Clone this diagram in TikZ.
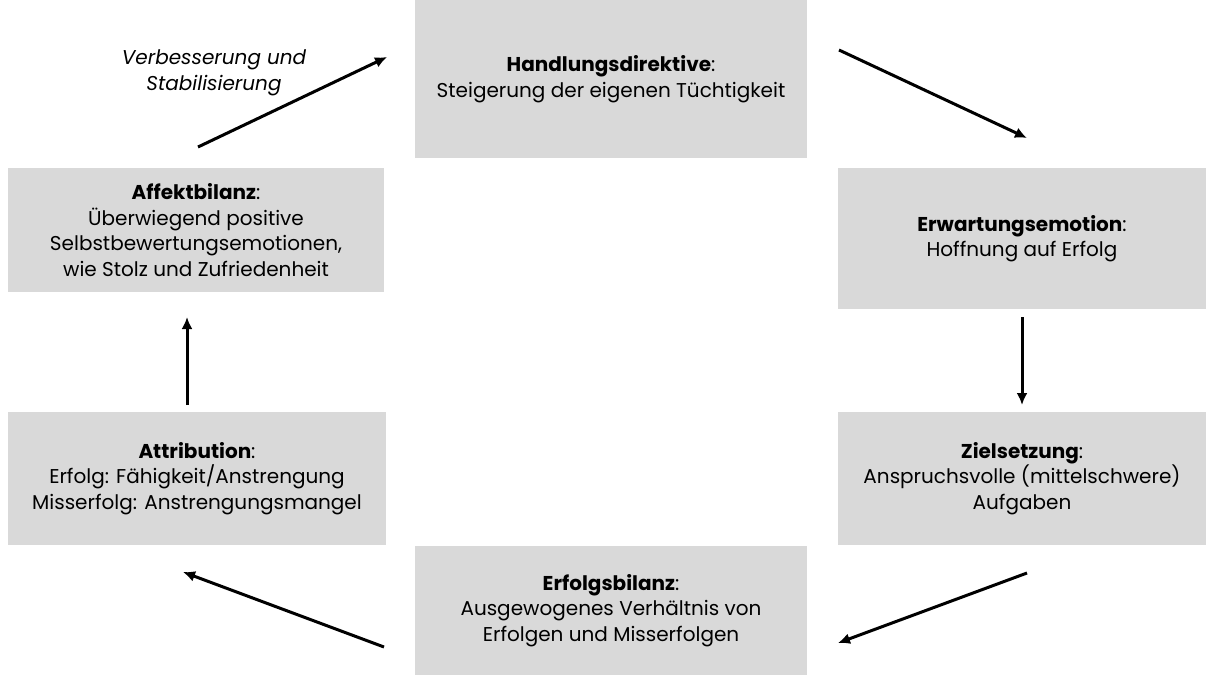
\documentclass[tikz,border=0pt]{standalone}
\usepackage{fontspec}
\setmainfont{Poppins}
\usepackage{tikz}
\usetikzlibrary{positioning}
\usetikzlibrary{arrows.meta}
\definecolor{boxgray}{HTML}{D9D9D9}

\begin{document}
\begin{tikzpicture}[x=1pt,y=-1pt,inner sep=0pt,
		phase/.style={fill=boxgray,align=center,font=\fontsize{20}{25.5}\selectfont},
		flow/.style={-{Latex[length=12pt,width=11pt]},line width=3pt}]
		\useasboundingbox (0,0) rectangle (1206,675);
		\node [phase,minimum width=392pt,minimum height=158pt] (handlung) at (611,79) {\textbf{Handlungsdirektive}:\\Steigerung der eigenen Tüchtigkeit};
		\node [phase,minimum width=368pt,minimum height=141pt] (erwartung) at (1022,238.5) {\textbf{Erwartungsemotion}:\\Hoffnung auf Erfolg};
		\node [phase,minimum width=368pt,minimum height=133pt] (ziel) at (1022,478.5) {\textbf{Zielsetzung}:\\Anspruchsvolle (mittelschwere)\\Aufgaben};
		\node [phase,minimum width=392pt,minimum height=129pt] (bilanz) at (611,610.5) {\textbf{Erfolgsbilanz}:\\Ausgewogenes Verhältnis von\\Erfolgen und Misserfolgen};
		\node [phase,minimum width=378pt,minimum height=133pt] (attribution) at (197,478.5) {\textbf{Attribution}:\\Erfolg: Fähigkeit/Anstrengung\\Misserfolg: Anstrengungsmangel};
		\node [phase,minimum width=376pt,minimum height=124pt] (affekt) at (196,230) {\textbf{Affektbilanz}:\\Überwiegend positive\\Selbstbewertungsemotionen,\\wie Stolz und Zufriedenheit};
		\node [align=center,font=\fontsize{20}{25.5}\selectfont\itshape] (verbesserung) at (214,73) {Verbesserung und\\Stabilisierung};
		% free arrow ends
		\coordinate (a1) at (198,147); \coordinate (b1) at (387,57);
		\coordinate (a2) at (839,50); \coordinate (b2) at (1027,138);
		\coordinate (a3) at (1022,317); \coordinate (b3) at (1022,405);
		\coordinate (a4) at (1027,573); \coordinate (b4) at (838,643);
		\coordinate (a5) at (384,647); \coordinate (b5) at (183,572);
		\coordinate (a6) at (187,405); \coordinate (b6) at (187,317);
		\foreach \n in {1,...,6}
			\draw [flow] (a\n) -- (b\n);
	\end{tikzpicture}
\end{document}
